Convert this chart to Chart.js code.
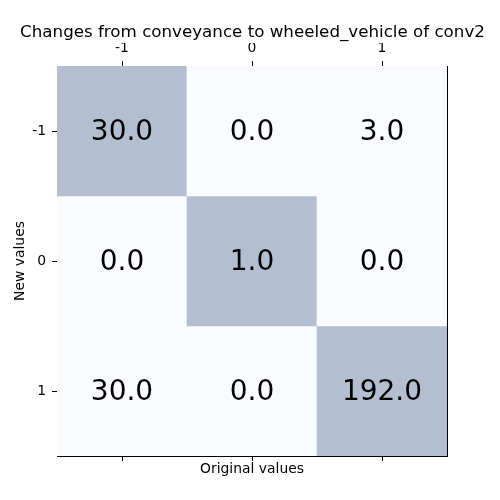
<!DOCTYPE html>
<html>
<head>
<meta charset="utf-8">
<script src="https://cdn.jsdelivr.net/npm/chart.js@4/dist/chart.umd.min.js"></script>
<style>
  body { margin: 0; background: #fff; }
  canvas { display: block; }
</style>
</head>
<body>
<canvas id="chart" width="500" height="500"></canvas>
<script>
// original values along x, new values along y
const originalValues = ["-1", "0", "1"];
const newValues = [-1, 0, 1];
// counts, one row per new value
const rowMinus1 = [30, 0, 3];
const row0 = [0, 1, 0];
const row1 = [30, 0, 192];
const counts = [rowMinus1, row0, row1];

const darkCell = "#b3bfd1";
const lightCell = "#f9fbfe";

Chart.defaults.font.family = "'DejaVu Sans', sans-serif";
Chart.defaults.color = "#000";

const datasets = newValues.map((nv, r) => ({
  label: String(nv),
  data: originalValues.map(() => [nv - 0.5, nv + 0.5]),
  counts: counts[r],
  backgroundColor: originalValues.map((ov, c) => (c === r ? darkCell : lightCell)),
  borderWidth: 0,
  xAxisID: "xb",
  yAxisID: "y",
  grouped: false,
  barPercentage: 1,
  categoryPercentage: 1,
}));

// writes the count in the middle of each cell
const cellText = {
  id: "cellText",
  afterDatasetsDraw(chart) {
    const ctx = chart.ctx;
    ctx.save();
    ctx.font = "28px 'DejaVu Sans', sans-serif";
    ctx.fillStyle = "#000";
    ctx.textAlign = "center";
    ctx.textBaseline = "middle";
    chart.data.datasets.forEach((ds, i) => {
      chart.getDatasetMeta(i).data.forEach((bar, j) => {
        const p = bar.getProps(["x", "y", "base"], true);
        ctx.fillText(ds.counts[j].toFixed(1), p.x, (p.y + p.base) / 2 + 2);
      });
    });
    ctx.restore();
  },
};

const tickGrid = { drawOnChartArea: false, drawTicks: true, tickLength: 5, color: "#000", offset: false };
const axisBorder = { display: true, color: "#000", width: 1 };

new Chart(document.getElementById("chart"), {
  type: "bar",
  data: { labels: originalValues, datasets: datasets },
  options: {
    responsive: false,
    animation: false,
    layout: { padding: { left: 5, right: 0, top: 0, bottom: 0 } },
    plugins: {
      legend: { display: false },
      tooltip: { enabled: false },
      title: {
        display: true,
        text: "Changes from conveyance to wheeled_vehicle of conv2",
        font: { size: 16.7, weight: "normal" },
        padding: { top: 23, bottom: 0 },
      },
    },
    scales: {
      xt: {
        type: "category",
        position: "top",
        offset: true,
        grid: tickGrid,
        border: axisBorder,
        ticks: { padding: 4, font: { size: 13.9 } },
        afterFit(s) { s.height = 23; },
      },
      xb: {
        type: "category",
        position: "bottom",
        offset: true,
        grid: tickGrid,
        border: axisBorder,
        ticks: { color: "rgba(0,0,0,0)", padding: 5, font: { size: 13.9 } },
        title: { display: true, text: "Original values", font: { size: 13.9 }, padding: { top: 0, bottom: 22 } },
        afterFit(s) { s.height = 44; },
      },
      y: {
        type: "linear",
        position: "left",
        reverse: true,
        min: -1.5,
        max: 1.5,
        grid: tickGrid,
        border: axisBorder,
        ticks: { padding: 6, font: { size: 13.9 } },
        afterBuildTicks(s) { s.ticks = newValues.map(v => ({ value: v })); },
        title: { display: true, text: "New values", font: { size: 13.9 }, padding: { top: 7, bottom: 0 } },
        afterFit(s) { s.width = 52; },
      },
      yr: {
        type: "linear",
        position: "right",
        min: -1.5,
        max: 1.5,
        grid: { display: false },
        border: axisBorder,
        ticks: { display: false },
        afterFit(s) { s.width = 53; },
      },
    },
  },
  plugins: [cellText],
});
</script>
</body>
</html>
